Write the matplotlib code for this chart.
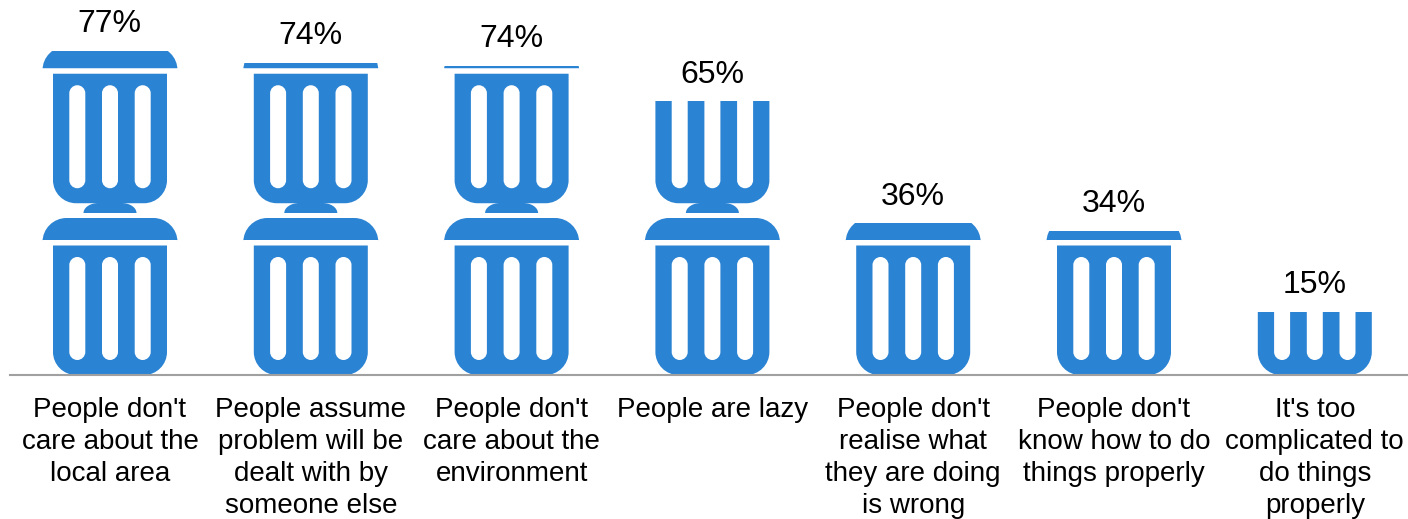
import matplotlib
matplotlib.use("Agg")
import matplotlib.pyplot as plt
from matplotlib.patches import PathPatch
from matplotlib.path import Path
from matplotlib.transforms import Affine2D
import numpy as np

plt.rcParams['font.family'] = ['Liberation Sans', 'DejaVu Sans']

categories = [
    "People don't\ncare about the\nlocal area",
    "People assume\nproblem will be\ndealt with by\nsomeone else",
    "People don't\ncare about the\nenvironment",
    "People are lazy",
    "People don't\nrealise what\nthey are doing\nis wrong",
    "People don't\nknow how to do\nthings properly",
    "It's too\ncomplicated to\ndo things\nproperly",
]
values = [77, 74.2, 73.5, 65, 36, 34.2, 15]
value_labels = ["77%", "74%", "74%", "65%", "36%", "34%", "15%"]

BLUE = "#2b83d3"
ICON_UNIT = 40.8  # percent covered by one bin
PX_PER_PCT = 4.21
PX_PER_CAT = 200.8
KAPPA = 0.55


def rounded_shape(x0, x1, y0, y1, r_top, r_bottom, ry_top=None, ccw=True):
    """Closed outline with separately rounded top and bottom corners"""
    ry_top = r_top if ry_top is None else ry_top
    rb = r_bottom
    kt, kty, kb = KAPPA * r_top, KAPPA * ry_top, KAPPA * rb
    verts = [(x0 + rb, y0), (x1 - rb, y0)]
    codes = [Path.MOVETO, Path.LINETO]
    segs = [
        [(x1 - rb + kb, y0), (x1, y0 + rb - kb), (x1, y0 + rb)],
        [(x1, y1 - ry_top)],
        [(x1, y1 - ry_top + kty), (x1 - r_top + kt, y1), (x1 - r_top, y1)],
        [(x0 + r_top, y1)],
        [(x0 + r_top - kt, y1), (x0, y1 - ry_top + kty), (x0, y1 - ry_top)],
        [(x0, y0 + rb)],
        [(x0, y0 + rb - kb), (x0 + rb - kb, y0), (x0 + rb, y0)],
    ]
    for seg in segs:
        verts += seg
        codes += [Path.CURVE4] * 3 if len(seg) == 3 else [Path.LINETO]
    if not ccw:
        # holes need the opposite winding
        verts = verts[::-1]
        codes = [Path.MOVETO] + codes[1:][::-1]
    verts.append(verts[0])
    codes.append(Path.CLOSEPOLY)
    return Path(np.array(verts, dtype=float), codes)


def bin_icon():
    """One bin in pixel sizes, origin at bottom centre"""
    parts = [
        rounded_shape(-57, 57, 0, 129.5, 0, 23),
        rounded_shape(-67.5, 67.5, 135, 157, 24, 0),
        rounded_shape(-26.5, 26.5, 162, 172, 15, 0, ry_top=10),
    ]
    for cx in (-32.7, 0, 32.7):
        parts.append(rounded_shape(cx - 8, cx + 8, 15, 118, 8, 8, ccw=False))
    return Path.make_compound_path(*parts)


fig = plt.figure(figsize=(14.08, 5.19), dpi=100)
ax = fig.add_axes([9.6 / 1408, 144 / 519, 1405.6 / 1408, 375 / 519])

x = np.arange(len(categories))
bars = ax.bar(x, values, width=0.72, facecolor="none", edgecolor="none")
ax.set_xlim(-0.5, len(categories) - 0.5)
ax.set_ylim(0, 375 / PX_PER_PCT)

icon = bin_icon()
for i, (bar, val) in enumerate(zip(bars, values)):
    for k in range(int(np.ceil(val / ICON_UNIT))):
        tr = Affine2D().scale(1 / PX_PER_CAT, 1 / PX_PER_PCT).translate(i, k * ICON_UNIT)
        patch = PathPatch(icon, facecolor=BLUE, edgecolor="none", transform=tr + ax.transData)
        ax.add_patch(patch)
        patch.set_clip_path(bar)
    ax.annotate(value_labels[i], (i - 0.002, val), xytext=(0, 19.3), textcoords="offset points",
                ha="center", va="center", fontsize=23, color="black", annotation_clip=False)

for side in ["top", "left", "right"]:
    ax.spines[side].set_visible(False)
ax.spines["bottom"].set_color("#a0a0a0")
ax.spines["bottom"].set_linewidth(1.5)
ax.set_yticks([])
ax.set_xticks(x)
ax.set_xticklabels(categories, fontsize=20, color="black", linespacing=1.29)
ax.tick_params(axis="x", length=0, pad=16)

fig.savefig("out.png", dpi=100)
plt.close(fig)
